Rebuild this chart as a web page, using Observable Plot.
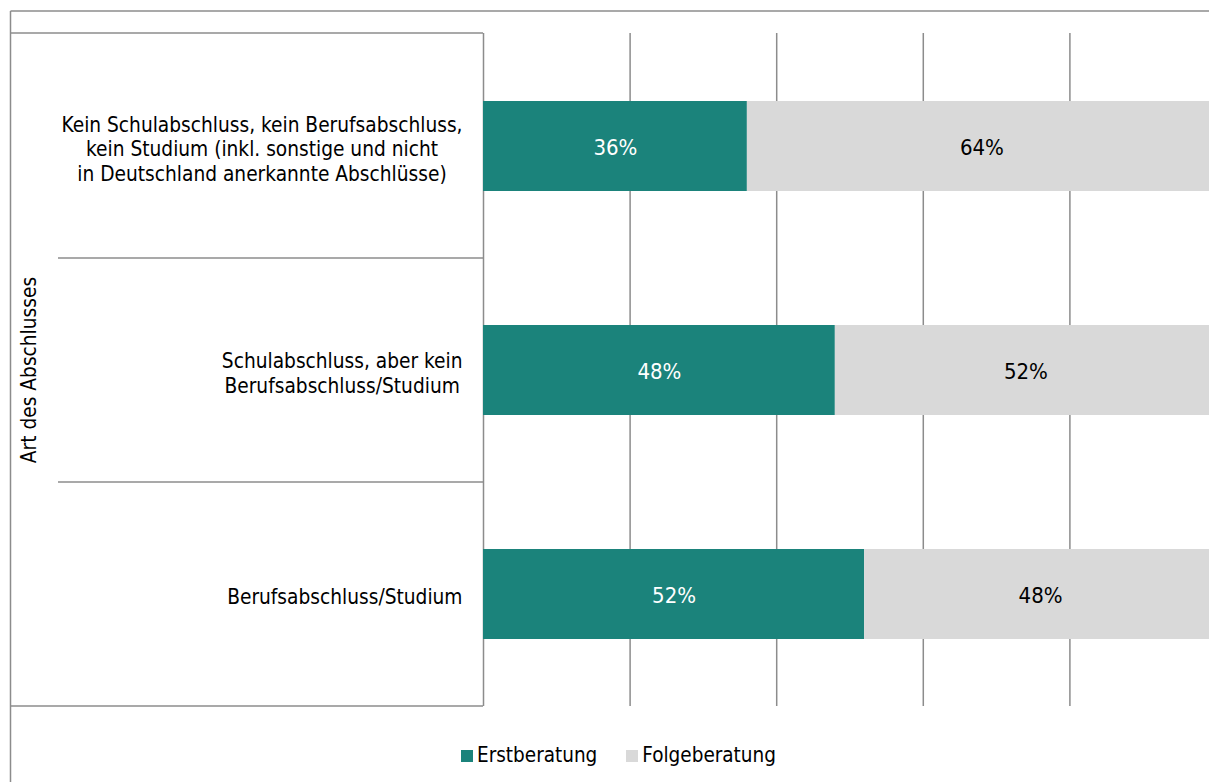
<!DOCTYPE html>
<html>
<head>
<meta charset="utf-8">
<script src="https://cdn.jsdelivr.net/npm/d3@7"></script>
<script src="https://cdn.jsdelivr.net/npm/@observablehq/plot@0.6"></script>
<style>
  html, body { margin: 0; padding: 0; background: #fff; overflow: hidden; }
  #wrap { position: relative; width: 1209px; height: 782px; overflow: hidden;
          font-family: "DejaVu Sans Condensed", "DejaVu Sans", sans-serif; }
  #chart { position: absolute; left: 0; top: 0; width: 1216px; }
  #chart svg { max-width: none !important; }
  #frame { position: absolute; left: 0; top: 0; pointer-events: none; }
  #legend { position: absolute; top: 743px; left: 461px; display: flex; align-items: center;
            font-size: 20.5px; line-height: 25px; color: #000; white-space: nowrap; }
  #legend .sw { width: 12px; height: 12px; display: inline-block; margin-right: 4px; }
  #legend .item { display: flex; align-items: center; margin-right: 29px; }
</style>
</head>
<body>
<div id="wrap">
  <div id="chart"></div>
  <svg id="frame" width="1209" height="782"></svg>
  <div id="legend"></div>
</div>
<script>
const categories = [
  "Kein Schulabschluss, kein Berufsabschluss,\nkein Studium (inkl. sonstige und nicht\nin Deutschland anerkannte Abschlüsse)",
  "Schulabschluss, aber kein\nBerufsabschluss/Studium",
  "Berufsabschluss/Studium"
];
const series = ["Erstberatung", "Folgeberatung"];
const erstberatung = [36, 48, 52];
const folgeberatung = [64, 52, 48];
const seriesColors = ["#1b837b", "#d9d9d9"];
const labelColors = ["#ffffff", "#000000"];
const gridTicks = [0, 20, 40, 60, 80, 100];
const axisTitle = "Art des Abschlusses";

const FONT = '"DejaVu Sans Condensed", "DejaVu Sans", sans-serif';
const LINE = "#8c8c8c";

// build stacked rows
const rows = [];
categories.forEach((cat, i) => {
  const vals = [erstberatung[i], folgeberatung[i]];
  let acc = 0;
  vals.forEach((v, j) => {
    rows.push({cat, series: series[j], value: v, x1: acc, x2: acc + v, mid: acc + v / 2, j});
    acc += v;
  });
});

const W = 1216, H = 782, mL = 483, mR = 0, mT = 33, mB = 76;

const chart = Plot.plot({
  width: W, height: H,
  marginLeft: mL, marginRight: mR, marginTop: mT, marginBottom: mB,
  style: {fontFamily: FONT, fontSize: "20.5px", background: "transparent", color: "#000", maxWidth: "none"},
  x: {domain: [0, 100], axis: null},
  y: {domain: categories, paddingInner: 0.6, paddingOuter: 0.3, label: null},
  color: {domain: series, range: seriesColors},
  marks: [
    Plot.gridX(gridTicks, {stroke: LINE, strokeOpacity: 1, strokeWidth: 1.5}),
    Plot.barX(rows, {x1: "x1", x2: "x2", y: "cat", fill: "series"}),
    Plot.text(rows, {x: "mid", y: "cat", text: d => d.value + "%", dy: 1,
      fill: d => labelColors[d.j], fontSize: 22}),
    Plot.axisY({tickSize: 0, tickPadding: 21, fontSize: 20.7, lineHeight: 1.2, dy: 2,
      label: axisTitle, labelAnchor: "center", labelOffset: 462, labelArrow: "none"})
  ]
});
chart.style.maxWidth = "none";
document.getElementById("chart").appendChild(chart);

// center multi-line tick labels as blocks, right-aligned to the padding edge
d3.select(chart).selectAll('g[aria-label="y-axis tick label"] text').each(function() {
  this.style.textAnchor = "middle";
  const w = this.getBBox().width;
  const t = this.getAttribute("transform") || "";
  this.setAttribute("transform", t + ` translate(${-w / 2},0)`);
});

// frame lines (table structure) derived from the band scale
const ys = chart.scale("y");
const step = ys.step, bw = ys.bandwidth;
const frame = d3.select("#frame");
const drawLine = (x1, y1, x2, y2) => frame.append("line")
  .attr("x1", x1).attr("y1", y1).attr("x2", x2).attr("y2", y2)
  .attr("stroke", LINE).attr("stroke-width", 1.5);
const frameLeft = 10.5, frameTop = 11;
drawLine(frameLeft, frameTop, 1209, frameTop);      // outer top
drawLine(frameLeft, frameTop, frameLeft, 782);      // outer left
drawLine(frameLeft, mT, mL, mT);                    // table top
drawLine(frameLeft, H - mB, mL, H - mB);            // table bottom
categories.slice(0, -1).forEach(c => {
  const yb = ys.apply(c) + bw + (step - bw) / 2;
  drawLine(58, yb, mL, yb);
});

// legend
const lg = d3.select("#legend");
series.forEach((s, i) => {
  const it = lg.append("div").attr("class", "item");
  it.append("span").attr("class", "sw").style("background", seriesColors[i]);
  it.append("span").text(s);
});
</script>
</body>
</html>
